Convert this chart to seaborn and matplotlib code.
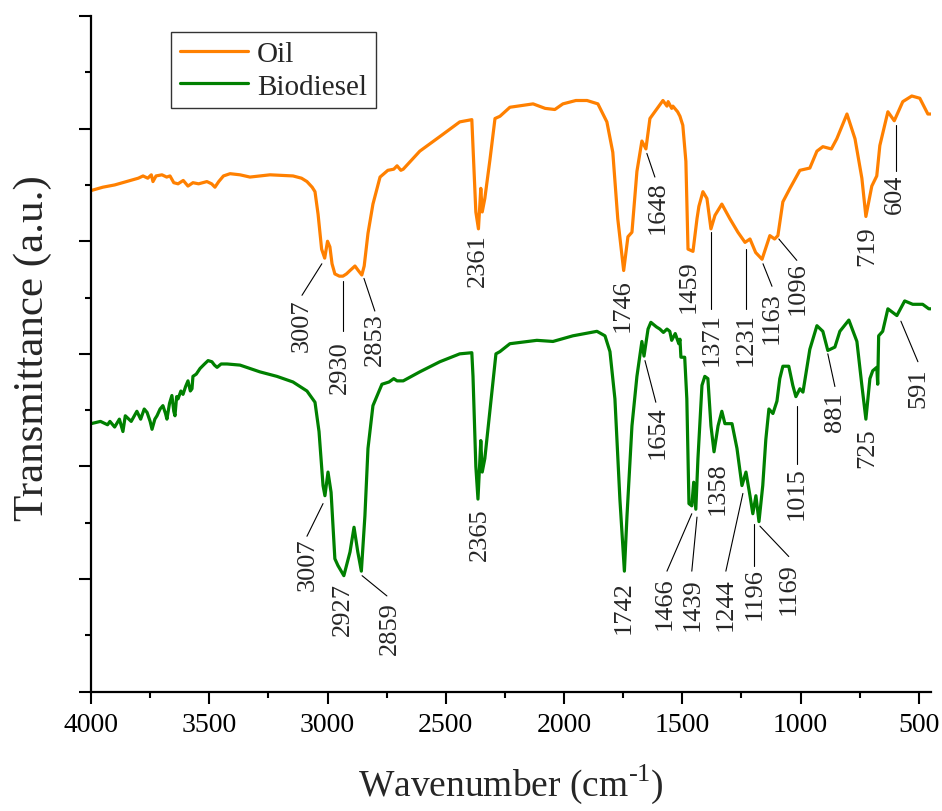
import numpy as np
import pandas as pd
import matplotlib
matplotlib.use('Agg')
import matplotlib.pyplot as plt
from matplotlib.ticker import MultipleLocator
import seaborn as sns

# spektrum FTIR (wavenumber cm-1, transmittance a.u.)
oil_wn = [4000, 3950, 3900, 3850, 3800, 3780, 3760, 3745, 3738, 3725, 3700, 3680, 3666, 3650, 3632,
          3610, 3590, 3569, 3545, 3510, 3490, 3476, 3460, 3440, 3412, 3370, 3328, 3243, 3146, 3110,
          3087, 3065, 3053, 3040, 3025, 3012, 3000, 2990, 2981, 2969, 2950, 2935, 2920, 2905, 2884,
          2870, 2855, 2845, 2829, 2808, 2778, 2745, 2720, 2706, 2690, 2680, 2610, 2525, 2441, 2390,
          2385, 2373, 2362, 2352, 2346, 2335, 2313, 2292, 2271, 2229, 2131, 2080, 2039, 2005, 1950,
          1903, 1857, 1819, 1794, 1773, 1748, 1730, 1713, 1692, 1671, 1654, 1637, 1582, 1565, 1560,
          1545, 1540, 1520, 1510, 1498, 1485, 1476, 1455, 1438, 1430, 1413, 1396, 1379, 1362, 1333,
          1299, 1265, 1235, 1214, 1190, 1163, 1130, 1110, 1096, 1075, 1045, 1003, 961, 931, 906,
          870, 847, 804, 770, 741, 724, 699, 678, 665, 631, 604, 568, 530, 496, 462, 450]
oil_t = [4.45, 4.48, 4.50, 4.53, 4.56, 4.58, 4.56, 4.59, 4.53, 4.58, 4.59, 4.57, 4.58, 4.52, 4.51,
         4.54, 4.49, 4.52, 4.51, 4.53, 4.51, 4.48, 4.53, 4.58, 4.60, 4.59, 4.57, 4.59, 4.58, 4.56,
         4.53, 4.48, 4.44, 4.24, 3.93, 3.85, 4.00, 3.95, 3.80, 3.71, 3.69, 3.69, 3.71, 3.74, 3.78,
         3.74, 3.70, 3.78, 4.07, 4.33, 4.57, 4.63, 4.64, 4.67, 4.63, 4.64, 4.80, 4.93, 5.06, 5.08,
         4.85, 4.26, 4.11, 4.47, 4.26, 4.38, 4.73, 5.09, 5.11, 5.19, 5.22, 5.18, 5.17, 5.22, 5.25,
         5.25, 5.22, 5.06, 4.79, 4.20, 3.74, 4.04, 4.08, 4.62, 4.89, 4.82, 5.09, 5.25, 5.20, 5.24,
         5.18, 5.20, 5.15, 5.11, 5.03, 4.71, 3.93, 3.91, 4.20, 4.31, 4.44, 4.38, 4.11, 4.23, 4.33,
         4.20, 4.08, 3.99, 4.02, 3.90, 3.84, 4.05, 4.02, 4.05, 4.35, 4.47, 4.63, 4.65, 4.80, 4.84,
         4.82, 4.91, 5.13, 4.91, 4.56, 4.22, 4.49, 4.58, 4.85, 5.15, 5.07, 5.24, 5.29, 5.27, 5.13, 5.13]

bio_wn = [4000, 3960, 3930, 3920, 3900, 3880, 3865, 3855, 3830, 3806, 3790, 3775, 3763, 3750, 3742,
          3730, 3721, 3708, 3696, 3685, 3679, 3668, 3658, 3650, 3645, 3638, 3632, 3620, 3611, 3600,
          3590, 3580, 3573, 3569, 3555, 3539, 3520, 3505, 3489, 3478, 3467, 3450, 3425, 3370, 3286,
          3214, 3146, 3087, 3053, 3036, 3019, 3011, 2998, 2985, 2969, 2956, 2931, 2905, 2888, 2872,
          2857, 2842, 2829, 2808, 2770, 2740, 2720, 2706, 2680, 2610, 2525, 2441, 2390, 2385, 2373,
          2364, 2352, 2346, 2335, 2313, 2288, 2271, 2229, 2115, 2047, 1963, 1861, 1827, 1806, 1785,
          1764, 1745, 1734, 1713, 1692, 1671, 1662, 1645, 1633, 1610, 1595, 1580, 1565, 1553, 1545,
          1530, 1515, 1510, 1506, 1490, 1481, 1472, 1460, 1452, 1443, 1434, 1417, 1405, 1392, 1379,
          1366, 1349, 1333, 1320, 1290, 1269, 1248, 1231, 1214, 1202, 1189, 1176, 1160, 1147, 1134,
          1117, 1100, 1088, 1075, 1050, 1033, 1020, 1003, 990, 961, 931, 906, 885, 855, 834,
          796, 762, 741, 724, 707, 695, 678, 674, 670, 653, 631, 593, 560, 526, 484, 458, 450]
bio_t = [2.38, 2.40, 2.37, 2.40, 2.35, 2.42, 2.31, 2.45, 2.40, 2.49, 2.42, 2.51, 2.48, 2.40, 2.33,
         2.42, 2.45, 2.51, 2.54, 2.47, 2.42, 2.56, 2.63, 2.49, 2.45, 2.62, 2.60, 2.67, 2.64, 2.71,
         2.76, 2.67, 2.69, 2.80, 2.82, 2.87, 2.91, 2.94, 2.93, 2.90, 2.88, 2.91, 2.91, 2.90, 2.84,
         2.80, 2.75, 2.67, 2.57, 2.31, 1.83, 1.74, 1.95, 1.77, 1.18, 1.12, 1.03, 1.24, 1.46, 1.24,
         1.07, 1.56, 2.16, 2.54, 2.73, 2.75, 2.78, 2.76, 2.76, 2.84, 2.93, 3.00, 3.01, 2.80, 2.00,
         1.71, 2.23, 1.95, 2.07, 2.51, 3.00, 3.02, 3.09, 3.12, 3.11, 3.16, 3.20, 3.16, 3.02, 2.60,
         1.71, 1.07, 1.56, 2.36, 2.80, 3.11, 2.98, 3.22, 3.28, 3.24, 3.22, 3.19, 3.22, 3.20, 3.12,
         3.18, 3.09, 3.13, 2.97, 2.97, 2.60, 1.67, 1.65, 1.86, 1.62, 2.07, 2.72, 2.80, 2.78, 2.36,
         2.13, 2.36, 2.49, 2.38, 2.38, 2.16, 1.83, 1.95, 1.74, 1.58, 1.74, 1.51, 1.83, 2.24, 2.51,
         2.47, 2.58, 2.78, 2.89, 2.89, 2.72, 2.62, 2.69, 2.66, 3.04, 3.25, 3.20, 3.03, 3.06, 3.20,
         3.30, 3.11, 2.72, 2.42, 2.78, 2.85, 2.88, 2.73, 3.16, 3.20, 3.40, 3.34, 3.47, 3.44, 3.44, 3.40, 3.40]

# label puncak: (teks, x teks, y atas teks, garis penunjuk atau None)
oil_peaks = [
    ('3007', 3108, 3.49, (3024, 3.80, 3108, 3.52)),
    ('2930', 2947, 3.12, (2935, 3.65, 2935, 3.20)),
    ('2853', 2800, 3.37, (2846, 3.67, 2800, 3.38)),
    ('2361', 2364, 4.07, None),
    ('1746', 1751, 3.67, None),
    ('1648', 1603, 4.54, (1650, 4.78, 1616, 4.57)),
    ('1459', 1472, 3.84, None),
    ('1371', 1375, 3.37, (1379, 4.08, 1379, 3.40)),
    ('1231', 1231, 3.37, (1231, 3.93, 1231, 3.40)),
    ('1163', 1121, 3.56, (1159, 3.80, 1121, 3.60)),
    ('1096', 1011, 3.82, (1092, 4.02, 1016, 3.83)),
    ('719', 720, 4.14, None),
    ('604', 601, 4.60, (597, 5.03, 597, 4.62)),
]
bio_peaks = [
    ('3007', 3083, 1.37, (3019, 1.67, 3087, 1.38)),
    ('2927', 2935, 0.97, None),
    ('2859', 2736, 0.80, (2854, 1.03, 2749, 0.85)),
    ('2365', 2356, 1.64, None),
    ('1742', 1747, 0.99, None),
    ('1654', 1603, 2.54, (1658, 2.94, 1612, 2.57)),
    ('1466', 1574, 1.02, (1460, 1.58, 1565, 1.07)),
    ('1439', 1455, 1.02, (1438, 1.55, 1460, 1.07)),
    ('1358', 1350, 2.05, None),
    ('1244', 1316, 1.02, (1244, 1.76, 1316, 1.07)),
    ('1196', 1193, 1.11, (1197, 1.49, 1197, 1.12)),
    ('1169', 1050, 1.15, (1172, 1.47, 1050, 1.20)),
    ('1015', 1016, 2.00, (1016, 2.54, 1016, 2.02)),
    ('881', 855, 2.67, (885, 3.00, 855, 2.71)),
    ('725', 720, 2.35, None),
    ('591', 500, 2.88, (576, 3.29, 504, 2.93)),
]

warna_oil = '#ff8000'
warna_bio = '#008000'

sns.set_style('ticks')
plt.rcParams['font.family'] = ['Liberation Serif', 'DejaVu Serif']
plt.rcParams['mathtext.fontset'] = 'custom'
plt.rcParams['mathtext.rm'] = 'Liberation Serif'

df_oil = pd.DataFrame({'wn': oil_wn, 'T': oil_t})
df_bio = pd.DataFrame({'wn': bio_wn, 'T': bio_t})

fig, ax = plt.subplots(figsize=(9.42, 8.12), dpi=100)
fig.subplots_adjust(left=0.0966, right=0.988, bottom=0.147, top=0.979)

sns.lineplot(data=df_oil, x='wn', y='T', color=warna_oil, linewidth=2.3, label='Oil', ax=ax)
sns.lineplot(data=df_bio, x='wn', y='T', color=warna_bio, linewidth=2.3, label='Biodiesel', ax=ax)

for peaks in (oil_peaks, bio_peaks):
    for teks, xt, yt, garis in peaks:
        if garis is not None:
            ax.plot([garis[0], garis[2]], [garis[1], garis[3]], color='black', linewidth=0.8)
        ax.text(xt, yt, teks, rotation=90, ha='center', va='top', fontsize=19)

ax.set_xlim(4000, 450)
ax.set_ylim(0, 6)
ax.xaxis.set_major_locator(MultipleLocator(500))
ax.xaxis.set_minor_locator(MultipleLocator(250))
ax.yaxis.set_major_locator(MultipleLocator(1))
ax.yaxis.set_minor_locator(MultipleLocator(0.5))
ax.set_yticklabels([])
ax.tick_params(axis='both', which='major', direction='out', length=8.5, width=1.5,
               colors='black', labelsize=20, pad=6)
ax.tick_params(axis='both', which='minor', direction='out', length=4.3, width=1.5, colors='black')
sns.despine(ax=ax)
for s in ('left', 'bottom'):
    ax.spines[s].set_linewidth(1.6)
    ax.spines[s].set_color('black')

ax.set_xlabel(r'Wavenumber (cm$^{\text{-1}}$)', fontsize=27, labelpad=18)
ax.set_ylabel('Transmittance (a.u.)', fontsize=31)
ax.yaxis.set_label_coords(-0.047, 0.51)

leg = ax.legend(loc='upper left', bbox_to_anchor=(0.095, 0.976), borderaxespad=0,
                fontsize=21, frameon=True, fancybox=False, handlelength=2.35,
                handletextpad=0.3, borderpad=0.3, labelspacing=0.2)
leg.get_frame().set_edgecolor('black')
leg.get_frame().set_linewidth(1.0)
for h in leg.get_lines():
    h.set_linewidth(2.3)

plt.savefig('out.png', dpi=100)
